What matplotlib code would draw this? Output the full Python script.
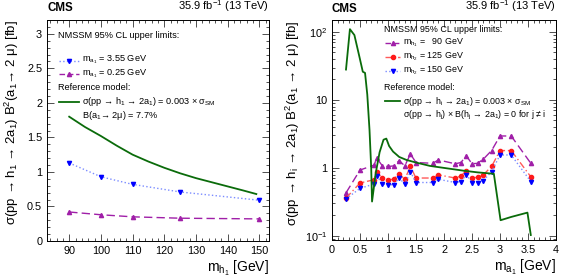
import numpy as np
import matplotlib
matplotlib.use("Agg")
import matplotlib.pyplot as plt
from matplotlib.ticker import MultipleLocator, LogLocator, NullFormatter

plt.rcParams['font.family'] = ['Liberation Sans', 'DejaVu Sans']
plt.rcParams['mathtext.fontset'] = 'custom'
plt.rcParams['mathtext.rm'] = 'Liberation Sans'
plt.rcParams['mathtext.it'] = 'Liberation Sans'
plt.rcParams['mathtext.bf'] = 'Liberation Sans:bold'

# left panel: limits vs m_h1
mh = [90, 100, 110, 125, 150]
lim_355 = [1.13, 0.93, 0.82, 0.71, 0.59]
lim_025 = [0.42, 0.38, 0.35, 0.33, 0.32]
ref_mh = [90, 95, 100, 105, 110, 115, 120, 125, 130, 135, 140, 145, 149]
ref_left = [1.80, 1.65, 1.52, 1.38, 1.25, 1.15, 1.06, 0.98, 0.91, 0.85, 0.79, 0.73, 0.68]

# right panel: limits vs m_a1
ma = [0.25, 0.5, 0.75, 0.8, 0.9, 1.0, 1.1, 1.2, 1.3, 1.4, 1.5, 1.8, 1.9,
      2.2, 2.3, 2.4, 2.5, 2.6, 2.7, 2.85, 3.0, 3.2, 3.55]
lim_90 = [0.43, 0.93, 1.10, 1.39, 1.07, 1.05, 1.07, 1.28, 1.07, 1.60, 1.20, 1.17, 1.31,
          1.15, 1.20, 1.50, 1.15, 1.17, 1.34, 1.80, 2.95, 2.95, 1.17]
lim_125 = [0.36, 0.60, 0.67, 0.87, 0.71, 0.67, 0.68, 0.82, 0.68, 1.05, 0.71, 0.71, 0.79,
           0.71, 0.76, 0.91, 0.71, 0.73, 0.79, 1.05, 1.80, 1.80, 0.74]
lim_150 = [0.35, 0.50, 0.58, 0.76, 0.58, 0.56, 0.57, 0.71, 0.58, 0.88, 0.61, 0.61, 0.68,
           0.61, 0.63, 0.79, 0.61, 0.61, 0.65, 0.88, 1.55, 1.55, 0.63]
ref_ma = [0.25, 0.32, 0.40, 0.49, 0.55, 0.59, 0.63, 0.67, 0.70, 0.715, 0.78, 0.85, 0.92,
          0.97, 1.02, 1.09, 1.2, 1.33, 1.5, 1.75, 2.0, 2.35, 2.6, 2.89, 3.01, 3.2, 3.49, 3.55]
ref_right = [28, 110, 90, 43, 26, 25, 12, 3.6, 1.0, 0.32, 0.83, 1.7, 2.6,
             2.7, 2.1, 1.74, 1.45, 1.31, 1.2, 1.07, 1.0, 0.91, 0.86, 0.82, 0.17, 0.19, 0.22, 0.103]

c_blue = '#0000ff'
c_blue_l = '#7b8cff'
c_mag = '#a01fa8'
c_red = '#ff1a1a'
c_red_l = '#ff5a5a'
c_green = '#0a6b0a'
MS = 3.0

W, H = 567, 278
fig = plt.figure(figsize=(W / 100, H / 100), dpi=100)
axL = fig.add_axes([47 / W, (H - 241) / H, 222 / W, 221 / H])
axR = fig.add_axes([332 / W, (H - 240) / H, 224 / W, 220 / H])

for ax in (axL, axR):
    ax.tick_params(which='both', direction='in', top=True, right=True, labelsize=7.8,
                   width=0.6, color='#333333')
    ax.tick_params(which='major', length=5)
    ax.tick_params(which='minor', length=2.5)
    for s in ax.spines.values():
        s.set_linewidth(0.7)

# ---- left
axL.plot(mh, lim_355, ls=':', color=c_blue_l, lw=1.0)
axL.plot(mh, lim_355, ls='none', marker='v', ms=MS, color=c_blue)
axL.plot(mh, lim_025, ls=(0, (6, 3)), color=c_mag, lw=1.0)
axL.plot(mh, lim_025, ls='none', marker='^', ms=MS, color=c_mag)
axL.plot(ref_mh, ref_left, color=c_green, lw=1.3)
axL.set_xlim(83, 153)
axL.set_ylim(0, 3.2)
axL.xaxis.set_major_locator(MultipleLocator(10))
axL.xaxis.set_minor_locator(MultipleLocator(2))
axL.yaxis.set_major_locator(MultipleLocator(0.5))
axL.yaxis.set_minor_locator(MultipleLocator(0.1))
axL.yaxis.set_major_formatter(plt.FuncFormatter(lambda v, p: '%g' % v))
axL.set_xlabel(r'm$_{\mathrm{h}_\mathrm{1}}$ [GeV]', loc='right', fontsize=10, labelpad=2)
axL.set_ylabel('σ(pp → h$_1$ → 2a$_1$) B$^2$(a$_1$→ 2 μ) [fb]',
               loc='top', fontsize=9.5, labelpad=4)

# ---- right
axR.plot(ma, lim_90, ls=(0, (6, 3)), color=c_mag, lw=1.0)
axR.plot(ma, lim_90, ls='none', marker='^', ms=MS, color=c_mag)
axR.plot(ma, lim_125, ls=(0, (5, 2, 1, 2)), color=c_red_l, lw=1.0)
axR.plot(ma, lim_125, ls='none', marker='o', ms=MS, color=c_red)
axR.plot(ma, lim_150, ls=':', color=c_blue_l, lw=1.0)
axR.plot(ma, lim_150, ls='none', marker='v', ms=MS, color=c_blue)
axR.plot(ref_ma, ref_right, color=c_green, lw=1.3)
axR.set_yscale('log')
axR.set_xlim(0, 4)
axR.set_ylim(0.087, 150)
axR.xaxis.set_major_locator(MultipleLocator(0.5))
axR.xaxis.set_minor_locator(MultipleLocator(0.1))
axR.xaxis.set_major_formatter(plt.FuncFormatter(lambda v, p: '%g' % v))
axR.yaxis.set_minor_locator(LogLocator(base=10, subs=np.arange(2, 10)))
axR.yaxis.set_minor_formatter(NullFormatter())
axR.yaxis.set_major_formatter(plt.FuncFormatter(
    lambda v, p: {0.1: r'10$^{-1}$', 1: '1', 10: '10', 100: r'10$^2$'}.get(round(v, 3), '')))
axR.set_xlabel(r'm$_{\mathrm{a}_\mathrm{1}}$ [GeV]', loc='right', fontsize=10, labelpad=2)
axR.set_ylabel('σ(pp → h$_i$ → 2a$_1$) B$^2$(a$_1$ → 2 μ) [fb]',
               loc='top', fontsize=9.5, labelpad=2)

# headers
for ax in (axL, axR):
    ax.text(0, 1.025, 'CMS', transform=ax.transAxes, fontsize=8.3, fontweight='bold',
            ha='left', va='bottom')
    ax.text(1, 1.025, r'35.9 fb$^{-1}$ (13 TeV)', transform=ax.transAxes, fontsize=8,
            ha='right', va='bottom')


# legends drawn row by row (pixel positions of the reference)
def fx(ax, px):
    x0 = 47 if ax is axL else 332
    w = 222 if ax is axL else 224
    return (px - x0) / w


def fy(ax, py):
    y1 = 241 if ax is axL else 240
    h = 221 if ax is axL else 220
    return (y1 - py) / h


def leg_text(ax, px, py, s, fs):
    ax.text(fx(ax, px), fy(ax, py), s, transform=ax.transAxes, fontsize=fs,
            ha='left', va='center')


def leg_line(ax, px0, px1, py, **kw):
    mk = kw.pop('marker', None)
    mc = kw.pop('mcolor', None)
    ax.plot([fx(ax, px0), fx(ax, px1)], [fy(ax, py)] * 2, transform=ax.transAxes,
            clip_on=False, **kw)
    if mk:
        ax.plot([fx(ax, (px0 + px1) / 2)], [fy(ax, py)], transform=ax.transAxes,
                marker=mk, ms=MS, color=mc, ls='none')


fL = 6.6
leg_text(axL, 58, 35, 'NMSSM 95% CL upper limits:', fL)
leg_line(axL, 59, 79, 61, color=c_blue_l, ls=':', lw=1.0, marker='v', mcolor=c_blue)
leg_text(axL, 82, 60, r'm$_{\mathrm{a}_\mathrm{1}}$ = 3.55 GeV', fL)
leg_line(axL, 59, 79, 74, color=c_mag, ls=(0, (4, 2)), lw=1.0, marker='^', mcolor=c_mag)
leg_text(axL, 82, 74, r'm$_{\mathrm{a}_\mathrm{1}}$ = 0.25 GeV', fL)
leg_text(axL, 58, 88, 'Reference model:', fL)
leg_line(axL, 59, 79, 102, color=c_green, lw=1.3)
leg_text(axL, 82, 102, 'σ(pp → h$_1$ → 2a$_1$) = 0.003 × σ$_{\\mathrm{SM}}$', fL)
leg_text(axL, 82, 116, 'B(a$_1$→ 2μ) = 7.7%', fL)

fR = 6.4
leg_text(axR, 384, 30, 'NMSSM 95% CL upper limits:', fR)
leg_line(axR, 385, 400, 43, color=c_mag, ls=(0, (4, 2)), lw=1.0, marker='^', mcolor=c_mag)
leg_text(axR, 403, 43, r'm$_{\mathrm{h}_\mathrm{1}}$ =   90 GeV', fR)
leg_line(axR, 385, 400, 57, color=c_red_l, ls=(0, (4, 2, 1, 2)), lw=1.0, marker='o', mcolor=c_red)
leg_text(axR, 403, 57, r'm$_{\mathrm{h}_\mathrm{2}}$ = 125 GeV', fR)
leg_line(axR, 385, 400, 71, color=c_blue_l, ls=':', lw=1.0, marker='v', mcolor=c_blue)
leg_text(axR, 403, 71, r'm$_{\mathrm{h}_\mathrm{2}}$ = 150 GeV', fR)
leg_text(axR, 384, 88, 'Reference model:', fR)
leg_line(axR, 385, 400, 101, color=c_green, lw=1.3)
leg_text(axR, 403, 101, 'σ(pp → h$_i$ → 2a$_1$) = 0.003 × σ$_{\\mathrm{SM}}$', fR)
leg_text(axR, 403, 115, 'σ(pp → h$_j$) × B(h$_j$ → 2a$_1$) = 0 for j ≠ i', fR)

fig.savefig('out.png', dpi=100)
